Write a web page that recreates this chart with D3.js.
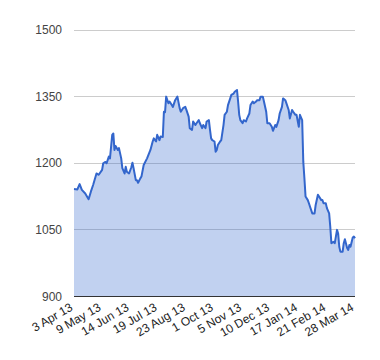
<!DOCTYPE html>
<html>
<head>
<meta charset="utf-8">
<script src="https://cdn.jsdelivr.net/npm/d3@7/dist/d3.min.js"></script>
<style>
  html, body { margin: 0; padding: 0; background: #fff; }
  svg { display: block; font-family: Arial, "Liberation Sans", sans-serif; }
</style>
</head>
<body>
<svg id="chart" width="380" height="360"></svg>
<script>
// Trading-day index (0 = 3 Apr 13, 250 = 28 Mar 14)
const days = [0,3,5,7,10,13,15,17,20,22,25,26,28,29,31,32,34,35,36,37,39,40,42,43,45,46,47,49,51,52,53,55,56,57,59,60,62,65,68,70,71,73,74,76,77,79,80,81,82,84,85,87,88,90,92,94,95,97,99,100,102,103,105,106,108,109,111,112,114,115,117,118,120,121,122,123,125,126,127,128,130,131,133,134,136,137,139,140,142,143,145,146,147,148,150,151,153,154,156,157,159,160,162,163,165,166,168,169,171,172,174,176,177,179,180,182,183,185,186,188,189,191,192,194,195,197,198,200,201,203,204,205,206,208,209,210,212,214,215,217,218,220,221,222,224,225,227,228,229,231,232,234,235,236,237,239,240,241,243,244,245,246,248,249,250];
const prices = [1142,1141,1153,1140,1132,1119,1136,1151,1177,1174,1185,1200,1203,1200,1215,1211,1264,1267,1230,1239,1230,1234,1211,1189,1177,1192,1181,1177,1191,1201,1189,1162,1162,1156,1166,1170,1196,1211,1230,1249,1256,1249,1264,1252,1260,1259,1316,1315,1350,1335,1339,1331,1327,1342,1350,1324,1316,1324,1327,1320,1305,1279,1275,1294,1286,1290,1297,1290,1279,1286,1279,1294,1297,1275,1256,1252,1249,1226,1230,1241,1249,1252,1286,1309,1316,1331,1346,1354,1357,1361,1365,1339,1309,1297,1290,1297,1294,1301,1312,1331,1339,1335,1339,1342,1342,1350,1350,1339,1316,1290,1290,1282,1273,1286,1282,1297,1312,1327,1346,1342,1335,1320,1301,1320,1316,1309,1309,1282,1309,1297,1203,1166,1125,1117,1110,1102,1087,1087,1106,1129,1125,1117,1117,1110,1110,1099,1087,1057,1020,1023,1020,1050,1042,1012,1001,1001,1020,1029,1009,1005,1016,1012,1033,1035,1031];
const tickDays = [0,25,50,75,100,125,150,175,200,225,250];
const tickLabels = ["3 Apr 13","9 May 13","14 Jun 13","19 Jul 13","23 Aug 13","1 Oct 13","5 Nov 13","10 Dec 13","17 Jan 14","21 Feb 14","28 Mar 14"];
const yTicks = [900,1050,1200,1350,1500];

const data = days.map((d, i) => ({ day: d, price: prices[i] }));

const svg = d3.select("#chart");
const plotLeft = 74, plotRight = 355, plotTop = 30, plotBottom = 296.5;

const x = d3.scaleLinear().domain([0, 250]).range([plotLeft, plotRight]);
const y = d3.scaleLinear().domain([900, 1500]).range([plotBottom, plotTop]);

// gridlines
svg.append("g").selectAll("line")
  .data(yTicks.filter(t => t !== 900))
  .join("line")
  .attr("x1", plotLeft).attr("x2", plotRight)
  .attr("y1", d => Math.floor(y(d)) + 0.5)
  .attr("y2", d => Math.floor(y(d)) + 0.5)
  .attr("stroke", "#cccccc").attr("stroke-width", 1);

// y labels
svg.append("g").selectAll("text")
  .data(yTicks)
  .join("text")
  .attr("x", 62)
  .attr("y", d => y(d))
  .attr("dy", "0.35em")
  .attr("text-anchor", "end")
  .attr("font-size", 12)
  .attr("fill", "#444")
  .text(d => d);

// area
const area = d3.area()
  .x(d => x(d.day))
  .y0(y(900))
  .y1(d => y(d.price));
svg.append("path")
  .datum(data)
  .attr("d", area)
  .attr("fill", "#3366cc")
  .attr("fill-opacity", 0.3);

// line
const line = d3.line()
  .x(d => x(d.day))
  .y(d => y(d.price));
svg.append("path")
  .datum(data)
  .attr("d", line)
  .attr("fill", "none")
  .attr("stroke", "#3366cc")
  .attr("stroke-width", 2)
  .attr("stroke-linejoin", "round");

// baseline
svg.append("line")
  .attr("x1", plotLeft).attr("x2", plotRight)
  .attr("y1", y(900)).attr("y2", y(900))
  .attr("stroke", "#333").attr("stroke-width", 1);

// x labels
svg.append("g").selectAll("text")
  .data(tickDays)
  .join("text")
  .attr("transform", (d) => `translate(${x(d) - 2.5},${plotBottom + 9.5}) rotate(-30)`)
  .attr("text-anchor", "end")
  .attr("dy", "0.35em")
  .attr("font-size", 12)
  .attr("fill", "#222")
  .text((d, i) => tickLabels[i]);
</script>
</body>
</html>
